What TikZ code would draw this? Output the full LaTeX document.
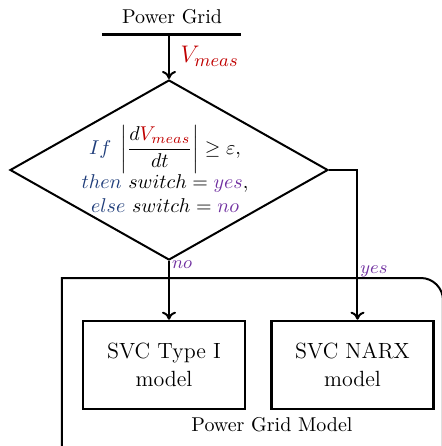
\documentclass[tikz,border=0pt]{standalone}
\usepackage{amsmath}
\usepackage{xcolor}
\definecolor{measRed}     {HTML}{C00000}
\definecolor{ctrlBlue}    {HTML}{1F3D7A}
\definecolor{answerViolet}{HTML}{7030A0}
\usetikzlibrary{arrows.meta, positioning, shapes.geometric}

\begin{document}
\begin{tikzpicture}[
    x=0.5pt, y=-0.5pt,
    every node/.style={font=\normalsize},
    arr/.style={-{To[length=4pt, width=7pt]}, line width=1pt},
    bus/.style={line width=1.5pt},
    frame/.style={line width=1pt},
    decision/.style={draw, diamond, aspect=1.77, line width=1pt,
                     minimum width=159pt, minimum height=90pt, inner sep=0pt},
    block/.style={draw, rectangle, line width=1.3pt, minimum width=81pt,
                  minimum height=44pt, inner sep=0pt, align=center,
                  font=\fontsize{11}{14}\selectfont},
    lab/.style={font=\small, answerViolet, inner sep=1pt}
]
\useasboundingbox (0,0) rectangle (442,446);
\clip (0,0) rectangle (442,446);
% Bus of the power grid
\node (grid) at (172,17) {Power Grid};
\coordinate (busL) at (102,34);
\coordinate (busR) at (241,34);
\coordinate (tap)  at (169,34);
\draw[bus] (busL) -- (busR);
% Switching rule
\node[decision] (dec) at (169,170) {};
\node[align=center, inner sep=0pt] (rule) at (165,169) {%
    $\textcolor{ctrlBlue}{If}\;\left|\dfrac{d\textcolor{measRed}{V_{meas}}}{dt}\right|\geq\varepsilon,$\\
    $\textcolor{ctrlBlue}{then}\ switch=\textcolor{answerViolet}{yes},$\\
    $\textcolor{ctrlBlue}{else}\ switch=\textcolor{answerViolet}{no}$};
\draw[arr] (tap) -- (dec.north)
    node[midway, right=2pt, font=\fontsize{13}{15}\selectfont, measRed] {$V_{meas}$};
% Power grid model with both SVC models
\draw[frame] (62,470) -- (62,278) -- (421,278)
    .. controls (433,278) and (443,288) .. (443,300) -- (443,470);
\node (modeltitle) at (272,425) {Power Grid Model};
\node[block] (typeone) at (164,365) {SVC Type I\\model};
\node[block] (narx)    at (352.5,365) {SVC NARX\\model};
\draw[arr] (dec.south) -- ([xshift=2.5pt]typeone.north)
    node[pos=0.07, anchor=west, lab] {$no$};
\draw[arr] (dec.east) -| ([xshift=2.5pt]narx.north)
    node[pos=0.84, anchor=west, lab] {$yes$};
\end{tikzpicture}
\end{document}
